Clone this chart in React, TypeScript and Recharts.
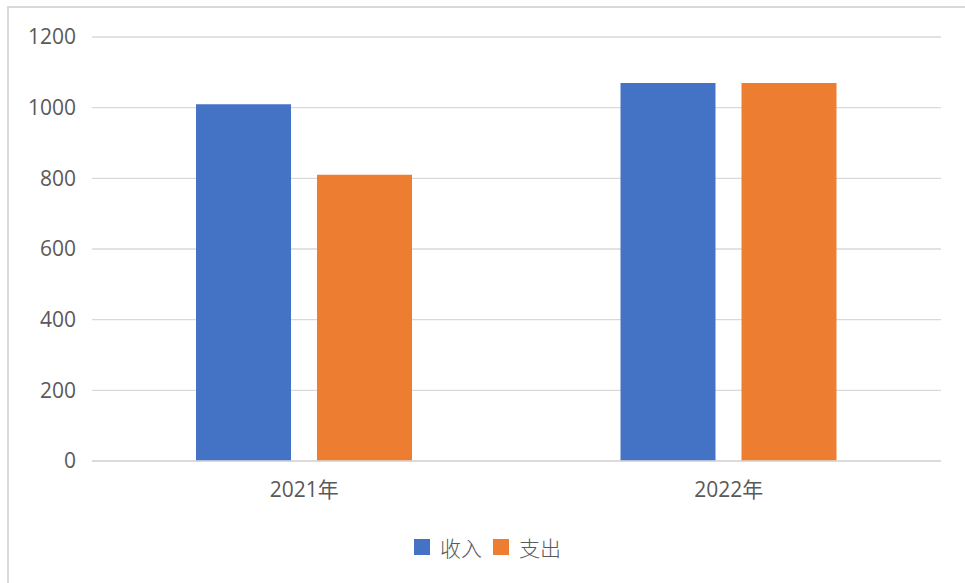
import { BarChart, Bar, XAxis, YAxis, CartesianGrid, Legend } from "recharts";

const years = ["2021年", "2022年"];
const income = [1010, 1070];
const expense = [810, 1070];
const yTicks = [0, 200, 400, 600, 800, 1000, 1200];

const seriesNames = { income: "收入", expense: "支出" };
const colors = { income: "#4472C4", expense: "#ED7D31" };

const data = years.map((year, i) => ({
  year,
  income: income[i],
  expense: expense[i],
}));

const font = "'Open Sans', 'Noto Sans CJK SC', sans-serif";

function LegendContent() {
  const items = [
    { key: "income", label: seriesNames.income, color: colors.income },
    { key: "expense", label: seriesNames.expense, color: colors.expense },
  ];
  return (
    <div
      style={{
        height: 24,
        display: "flex",
        justifyContent: "center",
        alignItems: "center",
        gap: 11,
        paddingLeft: 34,
        fontFamily: "'Noto Sans CJK SC', sans-serif",
        fontSize: 21,
        fontWeight: 300,
        color: "#595959",
      }}
    >
      {items.map((it) => (
        <div key={it.key} style={{ display: "flex", alignItems: "center", gap: 10 }}>
          <div style={{ width: 16, height: 16, background: it.color }} />
          <span>{it.label}</span>
        </div>
      ))}
    </div>
  );
}

export default function App() {
  return (
    <div style={{ position: "absolute", left: 0, top: 0, width: 965, height: 583, background: "#fff", overflow: "hidden" }}>
      <div
        style={{
          position: "absolute",
          left: 7,
          top: 6,
          width: 980,
          height: 600,
          border: "2px solid #D9D9D9",
          boxSizing: "border-box",
        }}
      />
      <div style={{ position: "absolute", left: 0, top: 0 }}>
        <BarChart
          width={965}
          height={583}
          data={data}
          margin={{ top: 37, right: 24, left: 0, bottom: 24 }}
          barSize={95}
          barGap={26}
        >
          <CartesianGrid vertical={false} stroke="#D9D9D9" strokeWidth={1.3} />
          <XAxis
            dataKey="year"
            height={74}
            axisLine={{ stroke: "#D9D9D9", strokeWidth: 1.3 }}
            tickLine={false}
            tickSize={0}
            tickMargin={21}
            tick={{ fill: "#595959", fontSize: 21, fontFamily: font }}
          />
          <YAxis
            width={92}
            domain={[0, 1200]}
            ticks={yTicks}
            axisLine={false}
            tickLine={false}
            tickSize={0}
            tickMargin={16}
            tick={{ fill: "#595959", fontSize: 21, fontFamily: font }}
          />
          <Legend verticalAlign="bottom" content={<LegendContent />} />
          <Bar dataKey="income" name={seriesNames.income} fill={colors.income} isAnimationActive={false} />
          <Bar dataKey="expense" name={seriesNames.expense} fill={colors.expense} isAnimationActive={false} />
        </BarChart>
      </div>
    </div>
  );
}
